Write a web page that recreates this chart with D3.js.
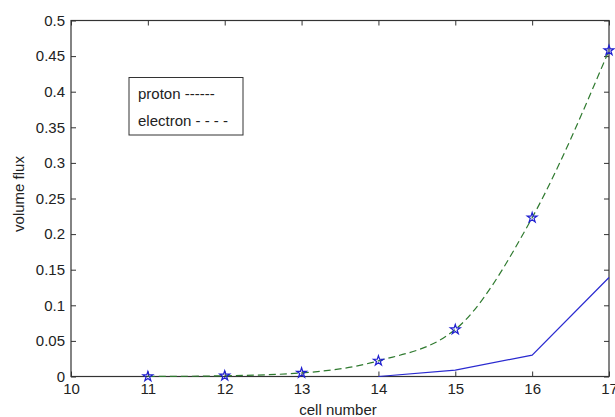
<!DOCTYPE html>
<html>
<head>
<meta charset="utf-8">
<script src="https://cdn.jsdelivr.net/npm/d3@7"></script>
<style>
  body { margin: 0; background: #fff; }
  text { font-family: "Liberation Sans", Arial, sans-serif; fill: #222; }
</style>
</head>
<body>
<svg id="chart" width="615" height="417"></svg>
<script>
// data
var cells = [11, 12, 13, 14, 15, 16, 17];
var electron = [0.0, 0.001, 0.005, 0.022, 0.066, 0.223, 0.458];
var protonCells = [14, 15, 16, 17];
var proton = [0.0, 0.009, 0.030, 0.139];
var xTicks = [10, 11, 12, 13, 14, 15, 16, 17];
var yTicks = [0, 0.05, 0.1, 0.15, 0.2, 0.25, 0.3, 0.35, 0.4, 0.45, 0.5];
var legendLines = ["proton ------", "electron - - - -"];

var box = {left: 71, top: 20.5, right: 609, bottom: 376.5};
var svg = d3.select("#chart");

var x = d3.scaleLinear().domain([10, 17]).range([box.left, box.right]);
var y = d3.scaleLinear().domain([0, 0.5]).range([box.bottom, box.top]);

var axisColor = "#333";
var fmt = function(d) { return d3.format("")(+d.toFixed(2)); };

// axes with inward ticks, mirrored on the top and right
function styleAxis(g) {
	g.select(".domain").remove();
	g.selectAll("line").attr("stroke", axisColor);
	g.selectAll("text").attr("font-size", 15).attr("fill", "#222");
}
svg.append("g")
    .attr("transform", "translate(0," + box.bottom + ")")
    .call(d3.axisBottom(x).tickValues(xTicks).tickSizeInner(-5).tickSizeOuter(0).tickPadding(7).tickFormat(fmt))
    .call(styleAxis);
svg.append("g")
    .attr("transform", "translate(0," + box.top + ")")
    .call(d3.axisTop(x).tickValues(xTicks).tickSizeInner(-5).tickSizeOuter(0).tickFormat(""))
    .call(styleAxis);
svg.append("g")
    .attr("transform", "translate(" + box.left + ",0)")
    .call(d3.axisLeft(y).tickValues(yTicks).tickSizeInner(-5).tickSizeOuter(0).tickPadding(6).tickFormat(fmt))
    .call(styleAxis);
svg.append("g")
    .attr("transform", "translate(" + box.right + ",0)")
    .call(d3.axisRight(y).tickValues(yTicks).tickSizeInner(-5).tickSizeOuter(0).tickFormat(""))
    .call(styleAxis);

svg.append("rect")
    .attr("x", box.left).attr("y", box.top)
    .attr("width", box.right - box.left).attr("height", box.bottom - box.top)
    .attr("fill", "none").attr("stroke", axisColor).attr("stroke-width", 1.2);

// proton: solid blue
var protonLine = d3.line()
    .x(function(d, i) { return x(protonCells[i]); })
    .y(function(d) { return y(d); });
svg.append("path")
    .attr("d", protonLine(proton))
    .attr("fill", "none")
    .attr("stroke", "#2a2ad0")
    .attr("stroke-width", 1.2);

// electron: dashed green smooth curve
var electronLine = d3.line()
    .curve(d3.curveMonotoneX)
    .x(function(d, i) { return x(cells[i]); })
    .y(function(d) { return y(d); });
svg.append("path")
    .attr("d", electronLine(electron))
    .attr("fill", "none")
    .attr("stroke", "#2f7a2f")
    .attr("stroke-width", 1.2)
    .attr("stroke-dasharray", "7,4");

// star markers
var star = d3.symbol().type(d3.symbolStar).size(30);
svg.selectAll(".marker")
    .data(electron)
  .enter().append("path")
    .attr("class", "marker")
    .attr("d", star())
    .attr("transform", function(d, i) { return "translate(" + x(cells[i]) + "," + y(d) + ")"; })
    .attr("fill", "none")
    .attr("stroke", "#1f1fd0")
    .attr("stroke-width", 1.2);

// legend box (text-only, as in the original)
svg.append("rect")
    .attr("x", 129).attr("y", 77.5)
    .attr("width", 114).attr("height", 57.5)
    .attr("fill", "#fff").attr("stroke", axisColor).attr("stroke-width", 1);
svg.selectAll(".legend")
    .data(legendLines)
  .enter().append("text")
    .attr("class", "legend")
    .attr("x", 138)
    .attr("y", function(d, i) { return 99 + i * 27; })
    .attr("font-size", 15)
    .text(function(d) { return d; });

// axis labels
svg.append("text")
    .attr("x", (box.left + box.right) / 2 - 2)
    .attr("y", 415)
    .attr("text-anchor", "middle")
    .attr("font-size", 15)
    .text("cell number");
svg.append("text")
    .attr("transform", "translate(24," + 194 + ") rotate(-90)")
    .attr("text-anchor", "middle")
    .attr("font-size", 15)
    .text("volume flux");
</script>
</body>
</html>
